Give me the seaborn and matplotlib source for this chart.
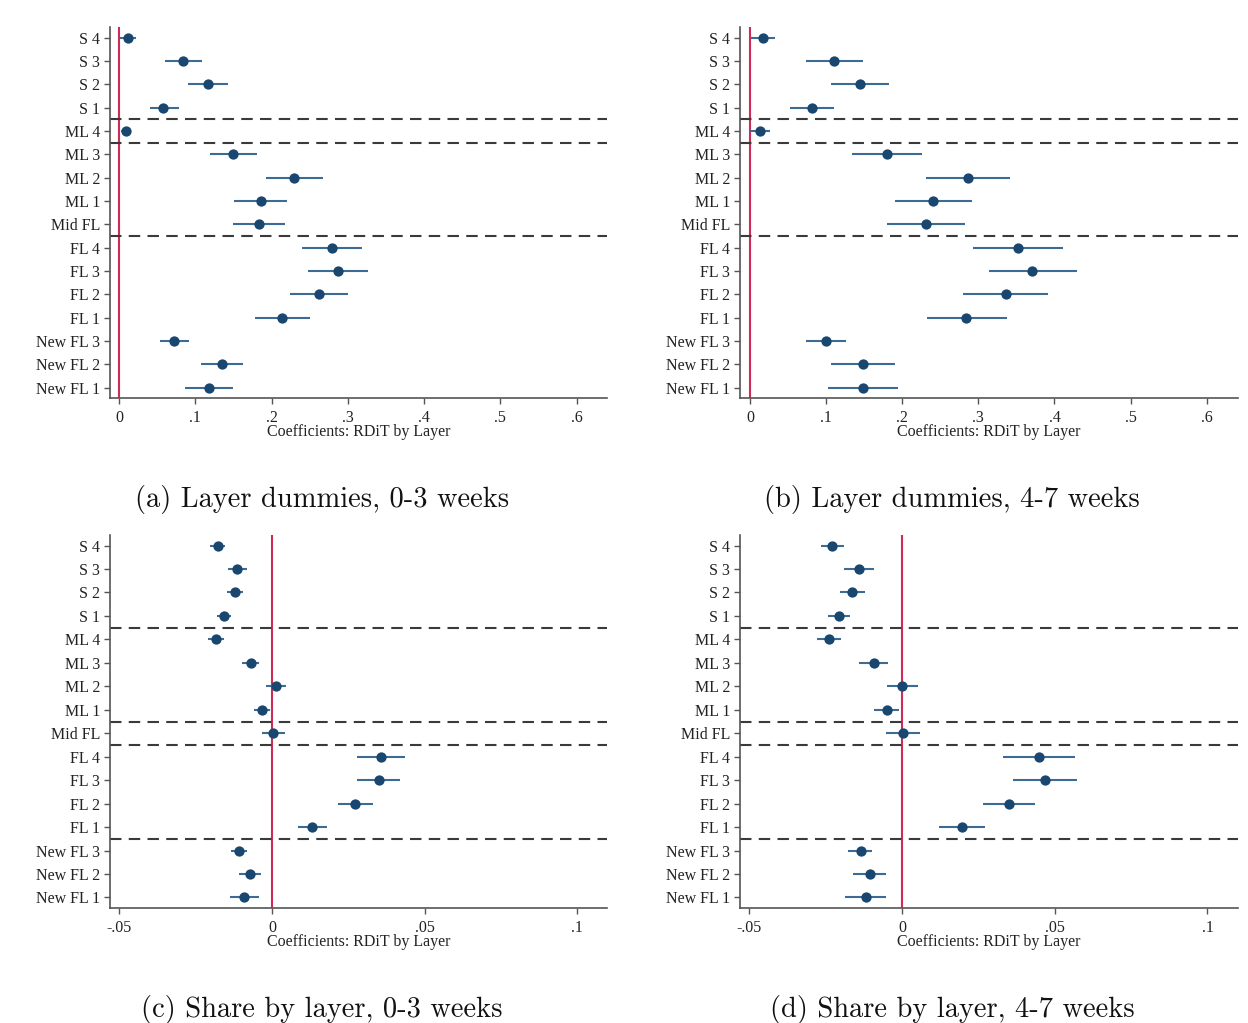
import numpy as np
import matplotlib
matplotlib.use("Agg")
import matplotlib.pyplot as plt
import seaborn as sns
import pandas as pd

labels = ["S 4", "S 3", "S 2", "S 1", "ML 4", "ML 3", "ML 2", "ML 1", "Mid FL",
          "FL 4", "FL 3", "FL 2", "FL 1", "New FL 3", "New FL 2", "New FL 1"]

# (a) Layer dummies, 0-3 weeks
a_coef = [0.012, 0.084, 0.117, 0.058, 0.009, 0.150, 0.230, 0.186, 0.184,
          0.279, 0.287, 0.262, 0.214, 0.072, 0.135, 0.118]
a_lo = [0.001, 0.060, 0.090, 0.040, 0.003, 0.119, 0.193, 0.151, 0.150,
        0.240, 0.248, 0.224, 0.178, 0.054, 0.107, 0.087]
a_hi = [0.022, 0.109, 0.143, 0.078, 0.016, 0.181, 0.267, 0.220, 0.218,
        0.319, 0.326, 0.300, 0.250, 0.091, 0.163, 0.149]

# (b) Layer dummies, 4-7 weeks
b_coef = [0.017, 0.111, 0.145, 0.081, 0.013, 0.180, 0.287, 0.240, 0.231,
          0.352, 0.371, 0.336, 0.284, 0.100, 0.148, 0.148]
b_lo = [0.0015, 0.074, 0.106, 0.053, 0.000, 0.134, 0.231, 0.190, 0.180,
        0.293, 0.314, 0.280, 0.232, 0.074, 0.106, 0.102]
b_hi = [0.0325, 0.148, 0.183, 0.110, 0.026, 0.226, 0.342, 0.292, 0.282,
        0.411, 0.430, 0.392, 0.337, 0.126, 0.191, 0.194]

# (c) Share by layer, 0-3 weeks
c_coef = [-0.0178, -0.0114, -0.0121, -0.0158, -0.0183, -0.0069, 0.0012, -0.0031, 0.0005,
          0.0356, 0.0349, 0.0272, 0.0132, -0.0109, -0.0072, -0.0090]
c_lo = [-0.0203, -0.0145, -0.0147, -0.0181, -0.0209, -0.0099, -0.0019, -0.0058, -0.0031,
        0.0280, 0.0280, 0.0215, 0.0084, -0.0134, -0.0108, -0.0136]
c_hi = [-0.0152, -0.0080, -0.0093, -0.0134, -0.0157, -0.0041, 0.0045, -0.0006, 0.0042,
        0.0436, 0.0420, 0.0330, 0.0182, -0.0082, -0.0037, -0.0043]

# (d) Share by layer, 4-7 weeks
d_coef = [-0.0229, -0.0142, -0.0163, -0.0206, -0.0239, -0.0092, 0.0001, -0.0050, 0.0004,
          0.0448, 0.0468, 0.0350, 0.0197, -0.0135, -0.0106, -0.0118]
d_lo = [-0.0266, -0.0191, -0.0202, -0.0241, -0.0277, -0.0139, -0.0048, -0.0091, -0.0053,
        0.0330, 0.0362, 0.0265, 0.0121, -0.0176, -0.0159, -0.0185]
d_hi = [-0.0190, -0.0092, -0.0121, -0.0170, -0.0201, -0.0044, 0.0052, -0.0009, 0.0060,
        0.0568, 0.0574, 0.0436, 0.0273, -0.0097, -0.0052, -0.0052]

captions = ["(a) Layer dummies, 0-3 weeks", "(b) Layer dummies, 4-7 weeks",
            "(c) Share by layer, 0-3 weeks", "(d) Share by layer, 4-7 weeks"]
xlabel = "Coefficients: RDiT by Layer"
ticks_ab = [0, 0.1, 0.2, 0.3, 0.4, 0.5, 0.6]
ticklabels_ab = ["0", ".1", ".2", ".3", ".4", ".5", ".6"]
ticks_cd = [-0.05, 0, 0.05, 0.1]
ticklabels_cd = ["-.05", "0", ".05", ".1"]
sep_ab = [3.5, 4.5, 8.5]
sep_cd = [3.5, 7.5, 8.5, 12.5]

sns.set_theme(style="ticks")
plt.rcParams['font.family'] = ['Liberation Serif', 'DejaVu Serif']

DOT = "#1a476f"
CI = "#3d6b93"
RED = "#cf2c55"

fig = plt.figure(figsize=(12.48, 10.23), dpi=100)

W = 1248.0
H = 1023.0
boxes = [(110, 27, 607, 398), (740, 27, 1238, 398),
         (110, 535, 607, 908), (740, 535, 1238, 908)]
panels = [(a_coef, a_lo, a_hi, ticks_ab, ticklabels_ab, (-0.012, 0.64), sep_ab),
          (b_coef, b_lo, b_hi, ticks_ab, ticklabels_ab, (-0.013, 0.641), sep_ab),
          (c_coef, c_lo, c_hi, ticks_cd, ticklabels_cd, (-0.053, 0.1097), sep_cd),
          (d_coef, d_lo, d_hi, ticks_cd, ticklabels_cd, (-0.053, 0.110), sep_cd)]
caption_y = [500, 500, 1009, 1009]
caption_x = [322, 952, 322, 952]

for i, ((x0, y0, x1, y1), (coef, lo, hi, tks, tkl, xl, seps)) in enumerate(zip(boxes, panels)):
    ax = fig.add_axes([x0 / W, 1 - y1 / H, (x1 - x0) / W, (y1 - y0) / H])
    df = pd.DataFrame({"layer": labels, "pos": np.arange(len(labels)),
                       "coef": coef, "lo": lo, "hi": hi})
    ax.axvline(0, color=RED, lw=1.5, zorder=1)
    for s in seps:
        ax.axhline(s, color="#3a3a3a", lw=1.5, ls=(0, (5.5, 3.5)), zorder=1)
    ax.hlines(df["pos"], df["lo"], df["hi"], color=CI, lw=1.5, zorder=2)
    sns.scatterplot(data=df, x="coef", y="pos", ax=ax, color=DOT, s=55,
                    edgecolor=DOT, linewidth=0, zorder=3, legend=False)
    ax.set_xlim(*xl)
    ax.set_ylim(15.45, -0.45)
    ax.set_yticks(np.arange(len(labels)))
    ax.set_yticklabels(labels, fontsize=11.5)
    ax.set_xticks(tks)
    ax.set_xticklabels(tkl, fontsize=11.5)
    ax.set_xlabel(xlabel, fontsize=11.5, labelpad=-1)
    ax.set_ylabel("")
    ax.tick_params(axis="both", length=4, width=1, color="#555555", labelcolor="#222222")
    ax.tick_params(axis="x", pad=4.5)
    ax.tick_params(axis="y", pad=3)
    for side in ["top", "right"]:
        ax.spines[side].set_visible(False)
    for side in ["left", "bottom"]:
        ax.spines[side].set_color("#555555")
        ax.spines[side].set_linewidth(1.2)
    ax.xaxis.label.set_color("#222222")
    fig.text(caption_x[i] / W, 1 - caption_y[i] / H, captions[i], family="cmr10",
             fontsize=20.5, ha="center", va="center", color="#111111")

fig.savefig("out.png", dpi=100, facecolor="white")
